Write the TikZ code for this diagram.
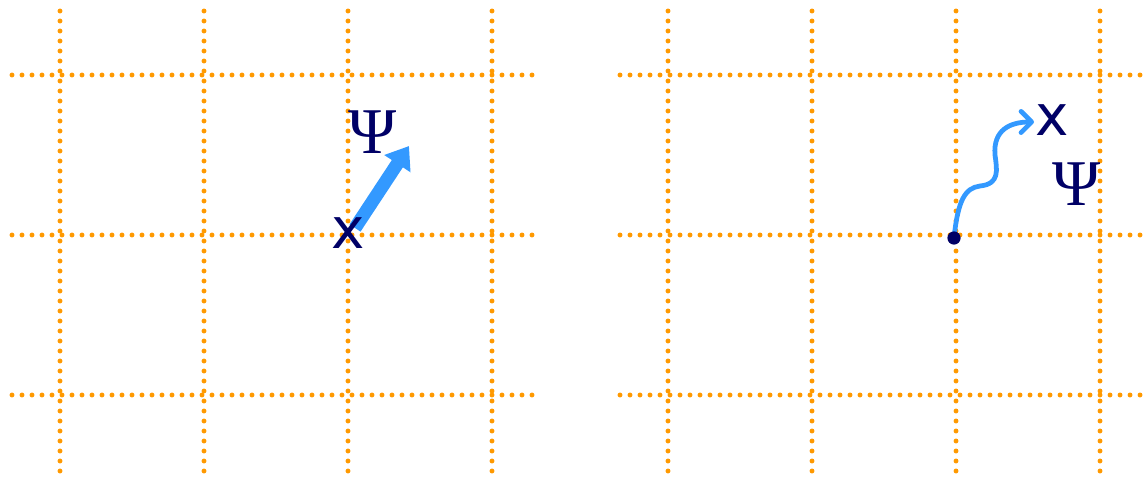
\documentclass[tikz,border=0pt]{standalone}
\usepackage{fontspec}
\newfontfamily\dejavu{DejaVu Sans}
\newfontfamily\libserif{Liberation Serif}
\usetikzlibrary{arrows.meta}
\definecolor{gridorange}{HTML}{FF9900}
\definecolor{arrowblue}{HTML}{3399FF}
\definecolor{navy}{HTML}{000066}
\tikzset{
  gridline/.style={draw=gridorange, line width=2.8pt, line cap=round, dash pattern=on 0pt off 5.67pt},
  xlabel/.style={text=navy, font=\dejavu\fontsize{32}{36}\selectfont, inner sep=0pt},
  psilabel/.style={text=navy, font=\libserif\fontsize{37}{40}\selectfont, inner sep=0pt},
  bigarrow/.style={draw=arrowblue, line width=7.5pt, -{Triangle[length=12pt,width=17pt]}},
  wavyarrow/.style={draw=arrowblue, line width=2.7pt, line cap=round, -{Straight Barb[length=6pt,width=12pt,line cap=round,line join=round]}},
}
\begin{document}
\begin{tikzpicture}[x=0.567pt, y=-0.567pt]
\useasboundingbox (0,0) rectangle (1147,478);
% left grid
\foreach \gx in {60,204,348,492} \draw[gridline] (\gx,11) -- (\gx,478);
\foreach \gy in {75,235,395} \draw[gridline] (12,\gy) -- (540,\gy);
% right grid
\foreach \gx in {668,812,956,1100} \draw[gridline] (\gx,11) -- (\gx,478);
\foreach \gy in {75,235,395} \draw[gridline] (620,\gy) -- (1147,\gy);
% left picture
\coordinate (a0) at (355,228);
\coordinate (a1) at (409,146);
\draw[bigarrow] (a0) -- (a1);
\node[xlabel] (xl) at (348,233) {x};
\node[psilabel] (psil) at (373,132) {Ψ};
% right picture
\coordinate (w0) at (954,238);
\coordinate (w1) at (1034,122);
\draw[wavyarrow] (w0) .. controls (958,200) and (965,188) .. (980,186)
  .. controls (1000,184) and (997,170) .. (995,155)
  .. controls (993,130) and (1010,122) .. (w1);
\node[circle, fill=navy, inner sep=0pt, minimum size=7.5pt] (dot) at (w0) {};
\node[xlabel] (xr) at (1052,120) {x};
\node[psilabel] (psir) at (1077,184) {Ψ};
\end{tikzpicture}
\end{document}
